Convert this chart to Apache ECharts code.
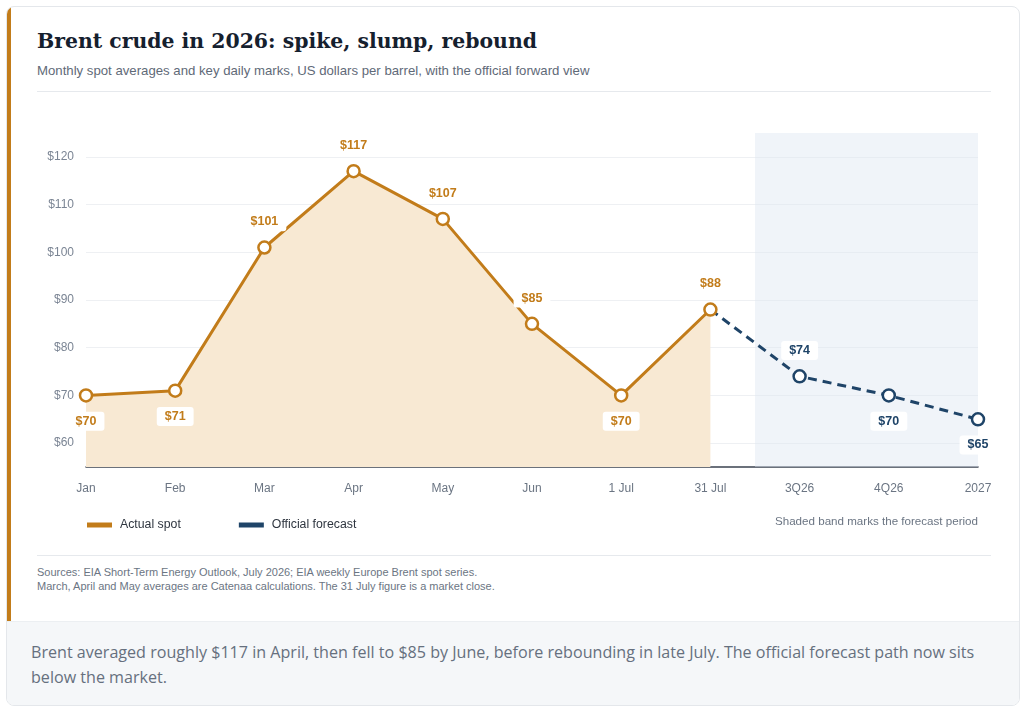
<!DOCTYPE html>
<html>
<head>
<meta charset="utf-8">
<script src="https://cdn.jsdelivr.net/npm/echarts@6/dist/echarts.min.js"></script>
<style>
  html, body { margin: 0; padding: 0; background: #ffffff; }
  body { width: 1024px; height: 710px; position: relative; overflow: hidden; font-family: "Liberation Sans", Arial, sans-serif; }
  .card { position: absolute; left: 6px; top: 6px; width: 1012px; height: 698px; border: 1px solid #e4e7eb; border-radius: 8px; overflow: hidden; background: #fff; }
  .accent { position: absolute; left: 0; top: 0; width: 4px; height: 614px; background: #c27c1a; }
  .title { position: absolute; left: 30px; top: 22px; font-family: "DejaVu Serif", Georgia, serif; font-weight: bold; font-size: 20.4px; color: #15202e; white-space: nowrap; }
  .subtitle { position: absolute; left: 30px; top: 56px; font-size: 13.2px; color: #5f6a78; white-space: nowrap; }
  .rule { position: absolute; left: 30px; width: 954px; height: 1px; background: #e6e9ed; }
  .sources { position: absolute; left: 30px; top: 558px; font-size: 11px; line-height: 14px; color: #6b7583; white-space: nowrap; }
  .caption { position: absolute; left: 0; top: 614px; width: 1012px; height: 84px; background: #f5f7f9; border-top: 1px solid #eceff2; }
  .caption p { margin: 0; position: absolute; left: 24px; top: 18px; width: 965px; font-family: "Open Sans", "Noto Sans", sans-serif; font-size: 16.1px; line-height: 25px; color: #66707e; }
  #chart { position: absolute; left: 0; top: 0; width: 1024px; height: 620px; }
</style>
</head>
<body>
<div class="card">
  <div class="accent"></div>
  <div class="title">Brent crude in 2026: spike, slump, rebound</div>
  <div class="subtitle">Monthly spot averages and key daily marks, US dollars per barrel, with the official forward view</div>
  <div class="rule" style="top:84px"></div>
  <div class="rule" style="top:548px"></div>
  <div class="sources">Sources: EIA Short-Term Energy Outlook, July 2026; EIA weekly Europe Brent spot series.<br>March, April and May averages are Catenaa calculations. The 31 July figure is a market close.</div>
  <div class="caption"><p>Brent averaged roughly $117 in April, then fell to $85 by June, before rebounding in late July. The official forecast path now sits below the market.</p></div>
</div>
<div id="chart"></div>
<script>
// ---- data ----
const categories = ['Jan', 'Feb', 'Mar', 'Apr', 'May', 'Jun', '1 Jul', '31 Jul', '3Q26', '4Q26', '2027'];
const actualSpot = [70, 71, 101, 117, 107, 85, 70, 88];
const forecastStart = 7; // index of '31 Jul'
const officialForecast = [88, 74, 70, 65];
const forecastBand = [7.5, 10]; // between 31 Jul and 2027
const yTickValues = [60, 70, 80, 90, 100, 110, 120];

// ---- label placement (style) ----
const actualLabelSide = ['bottom', 'bottom', 'top', 'top', 'top', 'top', 'bottom', 'top'];
const forecastLabelSide = [null, 'top', 'bottom', 'bottom'];

const ORANGE = '#c27c1a';
const NAVY = '#1f4468';

function labelCfg(pos, color) {
  return {
    show: true, position: pos, distance: 9,
    formatter: p => '$' + p.value[1],
    color: color, fontWeight: 'bold', fontSize: 12.5, fontFamily: 'Liberation Sans, Arial, sans-serif',
    backgroundColor: '#ffffff', padding: [3, 8], borderRadius: 3
  };
}

const actualData = actualSpot.map((v, i) => ({ value: [i, v], label: labelCfg(actualLabelSide[i], ORANGE) }));
const forecastData = officialForecast.map((v, i) => {
  const d = { value: [forecastStart + i, v] };
  if (forecastLabelSide[i]) d.label = labelCfg(forecastLabelSide[i], NAVY);
  else { d.symbol = 'none'; d.label = { show: false }; }
  return d;
});

const chart = echarts.init(document.getElementById('chart'), null, { renderer: 'canvas' });
chart.setOption({
  animation: false,
  textStyle: { fontFamily: 'Liberation Sans, Arial, sans-serif' },
  grid: { left: 86, right: 46, top: 133, bottom: 153 },
  xAxis: {
    type: 'value', min: 0, max: categories.length - 1, interval: 1,
    axisLine: { show: true, lineStyle: { color: '#3b4350', width: 1.5 } },
    axisTick: { show: false },
    splitLine: { show: false },
    axisLabel: { color: '#6b7583', fontSize: 12, margin: 16, formatter: v => categories[v] || '' }
  },
  yAxis: {
    type: 'value', min: 55, max: 125, interval: 5,
    axisLine: { show: false }, axisTick: { show: false },
    splitLine: { show: true, lineStyle: { color: ['rgba(0,0,0,0)', '#eef0f3'], width: 1 } },
    axisLabel: { color: '#7b8594', fontSize: 12, margin: 12,
      formatter: v => yTickValues.indexOf(v) >= 0 ? '$' + v : '' }
  },
  legend: {
    left: 82, top: 514, icon: 'rect', itemWidth: 25, itemHeight: 5, itemGap: 58,
    textStyle: { color: '#2f3640', fontSize: 12.3, padding: [0, 0, 0, 3] },
    data: [
      { name: 'Actual spot', itemStyle: { color: ORANGE, borderWidth: 0 }, lineStyle: { width: 0 } },
      { name: 'Official forecast', itemStyle: { color: NAVY, borderWidth: 0 }, lineStyle: { width: 0 } }
    ]
  },
  graphic: [{
    type: 'text', right: 46, top: 516,
    style: { text: 'Shaded band marks the forecast period', fill: '#6b7583', fontSize: 11.6, fontFamily: 'Liberation Sans, Arial, sans-serif' }
  }],
  series: [
    {
      name: 'Official forecast', type: 'line', z: 2,
      data: forecastData,
      symbol: 'circle', symbolSize: 12,
      itemStyle: { color: '#ffffff', borderColor: NAVY, borderWidth: 2.5 },
      lineStyle: { color: NAVY, width: 3, type: [9, 6] },
      markArea: {
        silent: true,
        itemStyle: { color: 'rgba(222,230,241,0.45)' },
        data: [[{ xAxis: forecastBand[0] }, { xAxis: forecastBand[1] }]]
      }
    },
    {
      name: 'Actual spot', type: 'line', z: 3,
      data: actualData,
      symbol: 'circle', symbolSize: 12,
      itemStyle: { color: '#ffffff', borderColor: ORANGE, borderWidth: 2.5 },
      lineStyle: { color: ORANGE, width: 3 },
      areaStyle: { color: '#f8e9d3', opacity: 1 }
    }
  ]
});
</script>
</body>
</html>
